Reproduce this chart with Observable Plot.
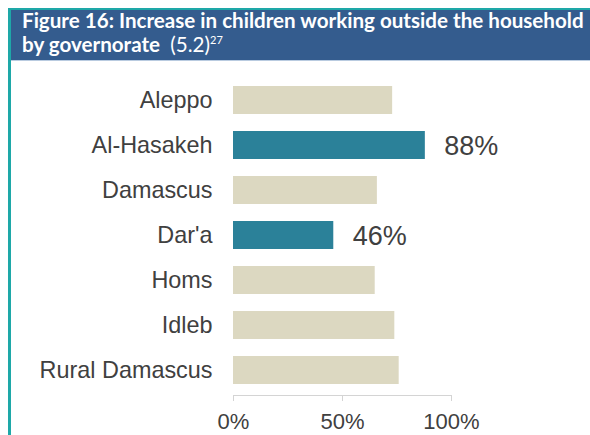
<!DOCTYPE html>
<html>
<head>
<meta charset="utf-8">
<script src="https://cdn.jsdelivr.net/npm/d3@7"></script>
<script src="https://cdn.jsdelivr.net/npm/@observablehq/plot@0.6"></script>
<style>
  html, body { margin: 0; padding: 0; background: #fff; }
  #wrap { position: relative; width: 590px; height: 435px; overflow: hidden; background: #fff; }
  #topline { position: absolute; left: 8px; top: 8px; width: 582px; height: 2px; background: #1ea8a8; }
  #leftline { position: absolute; left: 8px; top: 8px; width: 3px; height: 427px; background: #1ea8a8; }
  #band { position: absolute; left: 11px; top: 10px; width: 579px; height: 50px; background: #345c8e; }
  #title { position: absolute; left: 22px; top: 8px; color: #fff;
           font-family: Lato, "Open Sans", sans-serif; font-weight: 700; font-size: 20.6px;
           line-height: 24px; white-space: nowrap; }
  #title .reg { font-weight: 400; }
  #title sup { font-size: 11px; font-weight: 400; vertical-align: 8px; line-height: 0; }
  #underline { position: absolute; left: 11px; top: 60px; width: 579px; height: 1px; background: #b9cbe0; }
  #chart { position: absolute; left: 0; top: 62px; }
</style>
</head>
<body>
<div id="wrap">
  <div id="band"></div>
  <div id="title">Figure 16: Increase in children working outside the household<br>by governorate <span class="reg">&nbsp;(5.2)</span><sup>27</sup></div>
  <div id="underline"></div>
  <div id="topline"></div>
  <div id="leftline"></div>
  <div id="chart"></div>
</div>
<script>
const governorates = ["Aleppo", "Al-Hasakeh", "Damascus", "Dar'a", "Homs", "Idleb", "Rural Damascus"];
const increases = [73, 88, 66, 46, 65, 74, 76];
const highlighted = ["Al-Hasakeh", "Dar'a"];
const labelled = ["Al-Hasakeh", "Dar'a"];
const xTicks = [0, 50, 100];

const data = governorates.map((g, i) => ({g, v: increases[i], hi: highlighted.includes(g)}));

const chart = Plot.plot({
  width: 590,
  height: 373,
  marginLeft: 233,
  marginRight: 139,
  marginTop: 12,
  marginBottom: 40,
  style: {fontFamily: "Arial, 'Liberation Sans', sans-serif", color: "#404040", overflow: "visible"},
  x: {domain: [0, 100]},
  y: {domain: governorates, paddingInner: 0.388, paddingOuter: 0.2},
  marks: [
    Plot.barX(data, {y: "g", x: "v", fill: d => d.hi ? "#2b8199" : "#dcd8c1"}),
    Plot.text(data.filter(d => labelled.includes(d.g)), {
      y: "g", x: "v", text: d => d.v + "%", textAnchor: "start", dx: 19, dy: 1,
      fontSize: 27, fill: "#404040"
    }),
    Plot.frame({anchor: "bottom", stroke: "#d4d4d4"}),
    Plot.axisX({ticks: xTicks, tickFormat: d => d + "%", tickSize: 6, tickPadding: 12,
      fontSize: 22, stroke: "#d4d4d4", color: "#404040", label: null}),
    Plot.axisY({tickSize: 0, tickPadding: 21, fontSize: 23.4, label: null, color: "#404040"})
  ]
});
document.getElementById("chart").appendChild(chart);
</script>
</body>
</html>
